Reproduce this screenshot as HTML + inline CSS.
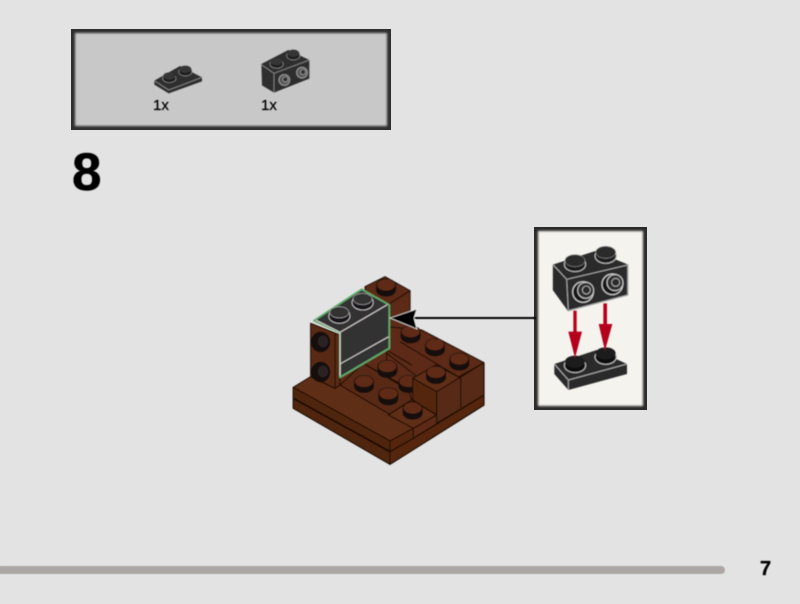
<!DOCTYPE html>
<html><head><meta charset="utf-8"><style>
html,body{margin:0;padding:0;background:#e3e3e3}
svg{display:block}
text{font-family:"Liberation Sans",sans-serif}
</style></head><body>
<svg xmlns="http://www.w3.org/2000/svg" width="800" height="604" viewBox="0 0 800 604">
<defs>
<filter id="b" x="-5%" y="-5%" width="110%" height="110%"><feGaussianBlur stdDeviation="0.5"/></filter>
<filter id="b2" x="-5%" y="-10%" width="110%" height="120%"><feGaussianBlur stdDeviation="1"/></filter>
<g id="st">
  <path d="M-30 0 V14 A30 20 0 0 0 30 14 V0Z" fill="#141010"/>
  <ellipse cx="0" cy="0" rx="30" ry="20" fill="#141010"/>
  <ellipse cx="0" cy="-1" rx="27" ry="17" fill="#5e2c15"/>
</g>
</defs>
<rect width="800" height="604" fill="#e3e3e3"/>

<!-- parts panel -->
<rect x="71" y="29" width="320" height="101" fill="#2f2f2f"/>
<rect x="75" y="33" width="312" height="93" fill="#c8c8c8" filter="url(#b2)"/>

<g filter="url(#b)">
<g transform="translate(140,40) scale(.33333)">
  <!-- plate -->
  <path d="M43 122 L120 78 L186 112 L186 124 L86 160 L43 134Z" fill="#2e2e2e"/>
  <path d="M43 122 L86 150 L186 112" fill="none" stroke="#8a8a8a" stroke-width="2.5"/>
  <ellipse cx="88" cy="115" rx="20" ry="13" fill="#1d1d1d" stroke="#888" stroke-width="2"/>
  <ellipse cx="88" cy="108" rx="18" ry="11" fill="#353535"/>
  <ellipse cx="136" cy="95" rx="20" ry="13" fill="#1d1d1d" stroke="#888" stroke-width="2"/>
  <ellipse cx="136" cy="88" rx="18" ry="11" fill="#353535"/>
  <!-- bracket brick -->
  <path d="M364 72 L445 30 L508 60 L508 116 L402 158 L366 136Z" fill="#2e2e2e"/>
  <path d="M364 74 L402 100 L508 60 M402 100 L402 156" fill="none" stroke="#8a8a8a" stroke-width="2.5"/>
  <ellipse cx="410" cy="72" rx="20" ry="13" fill="#1d1d1d" stroke="#888" stroke-width="2"/>
  <ellipse cx="410" cy="65" rx="18" ry="11" fill="#353535"/>
  <ellipse cx="460" cy="47" rx="20" ry="13" fill="#1d1d1d" stroke="#888" stroke-width="2"/>
  <ellipse cx="460" cy="40" rx="18" ry="11" fill="#353535"/>
  <circle cx="433" cy="120" r="16" fill="#555" stroke="#9a9a9a" stroke-width="3"/>
  <circle cx="436" cy="118" r="8" fill="#333" stroke="#aaa" stroke-width="2"/>
  <circle cx="486" cy="98" r="16" fill="#555" stroke="#9a9a9a" stroke-width="3"/>
  <circle cx="489" cy="96" r="8" fill="#333" stroke="#aaa" stroke-width="2"/>
</g>
<text x="153" y="110" font-size="15" fill="#000" stroke="#000" stroke-width=".25">1x</text>
<text x="261" y="110" font-size="15" fill="#000" stroke="#000" stroke-width=".25">1x</text>
<text x="72" y="190" font-size="53" font-weight="700" fill="#000" stroke="#000" stroke-width=".5">8</text>

<!-- main model -->
<g transform="translate(280,270) scale(.33333)" stroke="#1a0b05" stroke-width="3.2" stroke-linejoin="round" fill="#5c2b14">
  <!-- back brick -->
  <path d="M255 50 L315 20 L390 62 L390 130 L330 165 L255 120Z"/>
  <path d="M330 100 L390 62 M330 100 L330 165" fill="none"/>
  <use href="#st" x="318" y="46" stroke="none"/>
  <!-- silhouette -->
  <path d="M40 352 L40 415 L330 583 L612 405 L612 278 L425 180 L330 130 L90 320Z" stroke="none"/>
  <!-- back row -->
  <path d="M320 170 L425 180 L612 278 L465 360 L320 250Z"/>
  <path d="M360 215 L542 325 M320 240 L395 285" fill="none"/>
  <!-- floor -->
  <path d="M250 280 L180 345 L325 435 L395 390 L385 360Z" fill="#592912"/>
  <path d="M250 280 L395 360 M320 240 L320 290" fill="none"/>
  <!-- front plate -->
  <path d="M40 352 L92 320 L165 355 L180 345 L400 475 L330 513Z" fill="#5f2d15"/>
  <path d="M40 352 L330 513 L330 583 L40 415Z" fill="#50250f"/>
  <path d="M330 513 L400 475 L400 505 L612 375 L612 405 L330 583Z" fill="#55280f"/>
  <path d="M40 385 L330 545" fill="none" stroke-width="5.5"/>
  <path d="M330 545 L400 505 L612 375" fill="none" stroke-width="4"/>
  <!-- small tile -->
  <path d="M325 435 L395 390 L470 435 L400 475Z" fill="#5f2d15"/>
  <path d="M400 475 L470 435" fill="none"/>
  <!-- studs on floor & row -->
  <g stroke="none">
    <use href="#st" x="392" y="186"/>
    <use href="#st" x="465" y="225"/>
    <use href="#st" x="538" y="268"/>
    <use href="#st" x="322" y="290"/>
    <use href="#st" x="252" y="335"/>
    <use href="#st" x="325" y="372"/>
    <use href="#st" x="385" y="335"/>
    <use href="#st" x="398" y="415"/>
  </g>
  <!-- right block -->
  <path d="M398 325 L468 285 L542 325 L470 365Z" fill="#5f2d15"/>
  <path d="M398 325 L470 365 L470 435 L398 390Z" fill="#53270f"/>
  <path d="M470 365 L612 278 L612 375 L470 460Z" fill="#572912"/>
  <path d="M542 322 L542 412" fill="none"/>
  <path d="M612 278 V405 L330 583 L40 415 V352" fill="none"/>
  <use href="#st" x="468" y="308" stroke="none"/>
  <!-- left bracket -->
  <path d="M92 160 L180 195 L180 345 L165 355 L92 320Z" fill="#592912"/>
  <path d="M165 192 V355" fill="none"/>
  <g stroke="none">
    <ellipse cx="122" cy="216" rx="29" ry="31" fill="#141010"/>
    <ellipse cx="129" cy="214" rx="16" ry="18" fill="#2a2020"/>
    <ellipse cx="122" cy="306" rx="29" ry="31" fill="#141010"/>
    <ellipse cx="129" cy="304" rx="16" ry="18" fill="#2a2020"/>
  </g>
  <!-- new grey brick -->
  <path d="M102 152 L245 58 L328 105 L328 235 L180 322 L180 188Z" fill="#303033" stroke="#5fa86a" stroke-width="5.5"/>
  <path d="M107 150 L180 187 L322 104 M180 187 L180 318 M180 282 L326 200" fill="none" stroke="#d6d0ce" stroke-width="3"/>
  <ellipse cx="178" cy="138" rx="32" ry="22" fill="#17171a" stroke="#c9c5c3" stroke-width="2.5"/>
  <ellipse cx="178" cy="127" rx="29" ry="17" fill="#303033" stroke="#c9c5c3" stroke-width="1.5"/>
  <ellipse cx="248" cy="98" rx="32" ry="22" fill="#17171a" stroke="#c9c5c3" stroke-width="2.5"/>
  <ellipse cx="248" cy="87" rx="29" ry="17" fill="#303033" stroke="#c9c5c3" stroke-width="1.5"/>
</g>

<!-- leader arrow -->
<path d="M412 318 H535" stroke="#000" stroke-width="2" fill="none"/>
<path d="M390 318 L417 309 L414 318 L417 329Z" fill="#000" stroke="#fff" stroke-width=".6"/>
</g>

<!-- callout -->
<rect x="534" y="227" width="113" height="183" fill="#2a2a2a"/>
<rect x="538" y="231" width="105" height="175" fill="#f4f3ee" filter="url(#b2)"/>
<g filter="url(#b)">
<g transform="translate(525,220) scale(.33333)">
  <path d="M85 135 L210 95 L308 135 L308 225 L130 272 L85 210Z" fill="#2c2c2c" stroke="#2c2c2c" stroke-width="3"/>
  <path d="M85 135 L125 178 L308 135 M125 178 L130 272 M130 272 L308 225 V135" fill="none" stroke="#a8a8a8" stroke-width="3"/>
  <ellipse cx="150" cy="133" rx="32" ry="22" fill="#1a1a1a" stroke="#bbb" stroke-width="3"/>
  <ellipse cx="150" cy="122" rx="30" ry="18" fill="#2c2c2c" stroke="#999" stroke-width="1.5"/>
  <ellipse cx="242" cy="108" rx="32" ry="22" fill="#1a1a1a" stroke="#bbb" stroke-width="3"/>
  <ellipse cx="242" cy="97" rx="30" ry="18" fill="#2c2c2c" stroke="#999" stroke-width="1.5"/>
  <circle cx="174" cy="216" r="31" fill="#151515" stroke="#ccc" stroke-width="3.5"/>
  <circle cx="182" cy="211" r="24" fill="#2f2f2f" stroke="#ccc" stroke-width="3"/>
  <circle cx="184" cy="210" r="12" fill="#2c2c2c" stroke="#bbb" stroke-width="2.5"/>
  <circle cx="262" cy="193" r="31" fill="#151515" stroke="#ccc" stroke-width="3.5"/>
  <circle cx="270" cy="188" r="24" fill="#2f2f2f" stroke="#ccc" stroke-width="3"/>
  <circle cx="272" cy="187" r="12" fill="#2c2c2c" stroke="#bbb" stroke-width="2.5"/>
  <!-- plate -->
  <path d="M88 432 L215 390 L306 432 L306 462 L130 510 L88 462Z" fill="#2c2c2c"/>
  <path d="M88 432 L130 480 L306 432 M130 480 V510" fill="none" stroke="#a8a8a8" stroke-width="3"/>
  <ellipse cx="150" cy="436" rx="32" ry="22" fill="#0c0c0c" stroke="#bbb" stroke-width="3"/>
  <ellipse cx="150" cy="425" rx="30" ry="18" fill="#1e1e1e"/>
  <ellipse cx="242" cy="411" rx="32" ry="22" fill="#0c0c0c" stroke="#bbb" stroke-width="3"/>
  <ellipse cx="242" cy="400" rx="30" ry="18" fill="#1e1e1e"/>
  <!-- red arrows -->
  <path d="M145 272 H155 V335 H171 L150 414 L130 335 H145Z" fill="#b5061f"/>
  <path d="M235 250 H246 V312 H262 L240 392 L221 312 H235Z" fill="#b5061f"/>
</g>
<path d="M534 318 H536" stroke="#000" stroke-width="2"/>

<!-- footer -->
<path d="M0 570 H721" stroke="#aca7a4" stroke-width="8" stroke-linecap="round"/>
<text x="760" y="575" font-size="20" font-weight="700" fill="#000" stroke="#000" stroke-width=".3">7</text>
</g>
</svg>
</body></html>
